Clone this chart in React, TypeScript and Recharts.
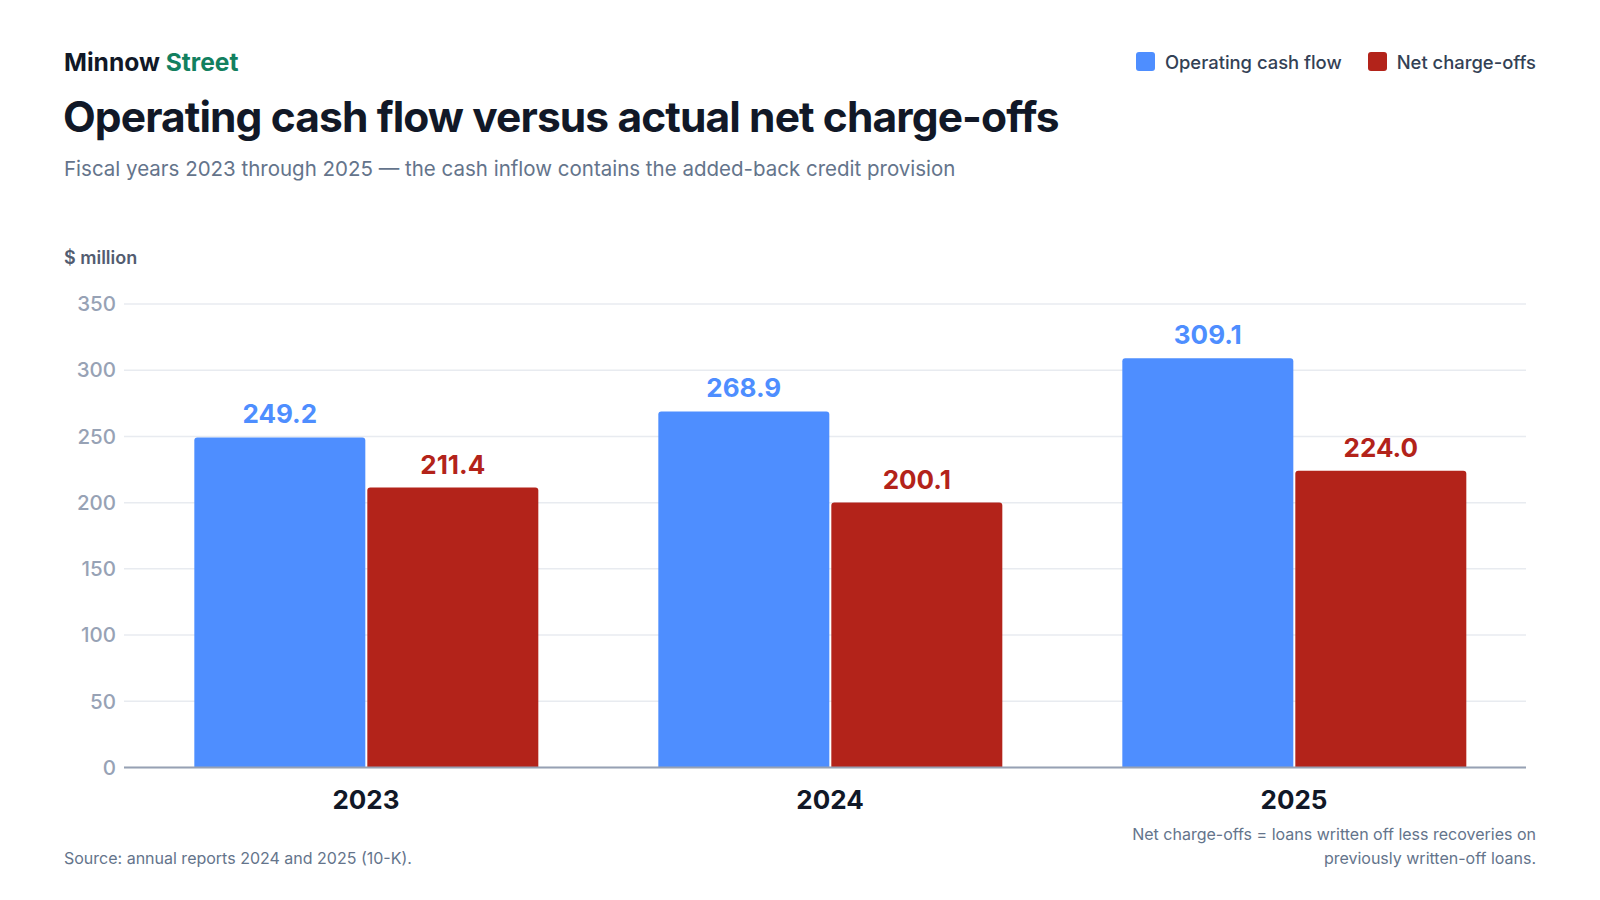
import React from "react";
import { BarChart, Bar, XAxis, YAxis, CartesianGrid, LabelList } from "recharts";

const years = ["2023", "2024", "2025"];
const operatingCashFlow = [249.2, 268.9, 309.1];
const netChargeOffs = [211.4, 200.1, 224.0];
const yTicks = [0, 50, 100, 150, 200, 250, 300, 350];

const BLUE = "#4e8eff";
const RED = "#b3231a";

const data = years.map((y, i) => ({
  year: y,
  ocf: operatingCashFlow[i],
  nco: netChargeOffs[i],
}));

const font = "Inter, 'Noto Sans', sans-serif";

export default function App() {
  return (
    <div
      style={{
        position: "fixed",
        left: 0,
        top: 0,
        width: 1600,
        height: 900,
        background: "#ffffff",
        fontFamily: font,
        overflow: "hidden",
        lineHeight: "normal",
      }}
    >
      <div style={{ position: "absolute", left: 0, top: 0 }}>
        <BarChart
          width={1600}
          height={900}
          data={data}
          margin={{ top: 304, right: 74, bottom: 102.5, left: 0 }}
          barCategoryGap="13%"
          barGap={2}
        >
          <CartesianGrid vertical={false} stroke="#e8ebf0" strokeWidth={1.5} />
          <XAxis
            dataKey="year"
            axisLine={{ stroke: "#97a1b4", strokeWidth: 2 }}
            tickLine={false}
            tickMargin={17}
            padding={{ left: 10, right: 0 }}
            tick={{ fill: "#111827", fontSize: 26, fontWeight: 700, fontFamily: font }}
          />
          <YAxis
            width={124}
            domain={[0, 350]}
            ticks={yTicks}
            axisLine={false}
            tickLine={false}
            tickMargin={2}
            tick={{ fill: "#97a2b5", fontSize: 20.5, fontWeight: 500, fontFamily: font }}
          />
          <Bar dataKey="ocf" fill={BLUE} radius={[3, 3, 0, 0]} isAnimationActive={false}>
            <LabelList
              dataKey="ocf"
              position="top"
              offset={14}
              formatter={(v: number) => v.toFixed(1)}
              style={{ fill: BLUE, fontSize: 26, fontWeight: 700, fontFamily: font }}
            />
          </Bar>
          <Bar dataKey="nco" fill={RED} radius={[3, 3, 0, 0]} isAnimationActive={false}>
            <LabelList
              dataKey="nco"
              position="top"
              offset={14}
              formatter={(v: number) => v.toFixed(1)}
              style={{ fill: RED, fontSize: 26, fontWeight: 700, fontFamily: font }}
            />
          </Bar>
        </BarChart>
      </div>

      <div
        style={{
          position: "absolute",
          left: 64,
          top: 46.9,
          fontSize: 24.6,
          fontWeight: 700,
          color: "#111827",
          whiteSpace: "nowrap",
        }}
      >
        Minnow <span style={{ color: "#12805f" }}>Street</span>
      </div>
      <div
        style={{
          position: "absolute",
          left: 63,
          top: 91.3,
          fontSize: 42.5,
          fontWeight: 700,
          letterSpacing: -0.9,
          color: "#111827",
          whiteSpace: "nowrap",
        }}
      >
        Operating cash flow versus actual net charge-offs
      </div>
      <div
        style={{
          position: "absolute",
          left: 64,
          top: 156.1,
          fontSize: 20.5,
          color: "#64748b",
          whiteSpace: "nowrap",
        }}
      >
        Fiscal years 2023 through 2025 — the cash inflow contains the added-back credit provision
      </div>

      <div
        style={{
          position: "absolute",
          right: 64,
          top: 50.5,
          display: "flex",
          alignItems: "center",
          gap: 26,
          fontSize: 18.4,
          fontWeight: 500,
          color: "#334155",
          whiteSpace: "nowrap",
        }}
      >
        {[
          { name: "Operating cash flow", color: BLUE },
          { name: "Net charge-offs", color: RED },
        ].map((l) => (
          <div key={l.name} style={{ display: "flex", alignItems: "center", gap: 10 }}>
            <div style={{ width: 19, height: 19, borderRadius: 3, background: l.color }} />
            <span>{l.name}</span>
          </div>
        ))}
      </div>

      <div
        style={{
          position: "absolute",
          left: 64,
          top: 246.9,
          fontSize: 18,
          fontWeight: 600,
          color: "#525c70",
          whiteSpace: "nowrap",
        }}
      >
        $ million
      </div>

      <div
        style={{
          position: "absolute",
          left: 64,
          top: 847.8,
          fontSize: 16,
          color: "#64748b",
          whiteSpace: "nowrap",
        }}
      >
        Source: annual reports 2024 and 2025 (10-K).
      </div>
      <div
        style={{
          position: "absolute",
          right: 64,
          top: 821.5,
          fontSize: 16,
          lineHeight: "24px",
          color: "#64748b",
          textAlign: "right",
          whiteSpace: "nowrap",
        }}
      >
        Net charge-offs = loans written off less recoveries on
        <br />
        previously written-off loans.
      </div>
    </div>
  );
}
